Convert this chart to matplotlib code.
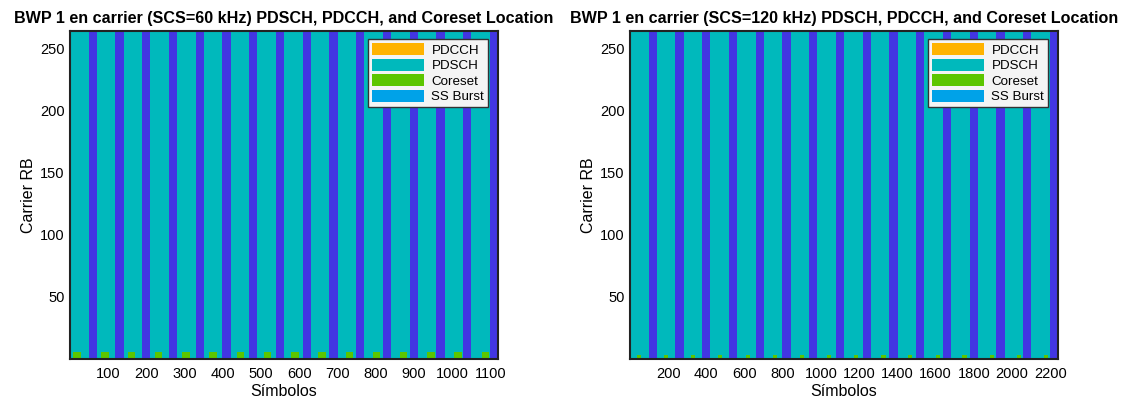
import matplotlib.pyplot as plt
from matplotlib.patches import Patch

plt.rcParams['font.family'] = ['Liberation Sans', 'DejaVu Sans']

# carrier setup for the two numerologies
scs_khz = [60, 120]
n_symbols = [1120, 2240]
n_rb = 264
x_ticks = [list(range(100, 1101, 100)), list(range(200, 2201, 200))]
y_ticks = [50, 100, 150, 200, 250]

# PDSCH allocation: repeats every period, occupies the first pdsch_len symbols
pdsch_period = [70, 140]
pdsch_len = [49, 98]

# coreset blocks (start symbol, length in symbols, size in RB)
coreset_start = [
    [9, 81, 151, 222, 294, 364, 436, 507, 578, 649, 721, 792, 863, 935, 1005, 1077],
    [35, 178, 319, 462, 605, 746, 889, 1032, 1172, 1316, 1456, 1599, 1740, 1883, 2026, 2165],
]
coreset_len = [20, 22]
coreset_rb = [5.5, 3.2]

c_bg = '#4236E2'
c_pdsch = '#00B9BC'
c_pdcch = '#FFB300'
c_coreset = '#5CC600'
c_ss = '#00A2E8'

fig = plt.figure(figsize=(11.29, 4.01), dpi=100)
lefts = [70 / 1129, 630 / 1129]

for i in range(2):
    ax = fig.add_axes([lefts[i], 42 / 401, 428 / 1129, 328 / 401])
    ax.set_facecolor(c_bg)

    starts = list(range(0, n_symbols[i], pdsch_period[i]))
    ax.bar(starts, n_rb, width=pdsch_len[i], align='edge', color=c_pdsch, linewidth=0)
    ax.bar(coreset_start[i], coreset_rb[i], width=coreset_len[i], align='edge',
           color=c_coreset, linewidth=0)

    ax.set_xlim(0, n_symbols[i])
    ax.set_ylim(0, n_rb + 0.5)
    ax.set_xticks(x_ticks[i])
    ax.set_yticks(y_ticks)
    ax.tick_params(direction='in', length=0, labelsize=10.5)
    ax.tick_params(axis='y', pad=4)
    ax.tick_params(axis='x', pad=6)
    for s in ax.spines.values():
        s.set_linewidth(1.5)
        s.set_color('#222222')

    ax.set_xlabel('Símbolos', fontsize=11.5, labelpad=2)
    ax.set_ylabel('Carrier RB', fontsize=11.5, labelpad=3)
    ax.set_title(f'BWP 1 en carrier (SCS={scs_khz[i]} kHz) PDSCH, PDCCH, and Coreset Location',
                 fontsize=11.6, fontweight='bold', pad=6)

    handles = [Patch(facecolor=c_pdcch, edgecolor='none', label='PDCCH'),
               Patch(facecolor=c_pdsch, edgecolor='none', label='PDSCH'),
               Patch(facecolor=c_coreset, edgecolor='none', label='Coreset'),
               Patch(facecolor=c_ss, edgecolor='none', label='SS Burst')]
    leg = ax.legend(handles=handles, loc='upper right', bbox_to_anchor=(0.977, 0.975),
                    borderaxespad=0, fontsize=9.6, handlelength=3.9, handleheight=1.0,
                    labelspacing=0.15, handletextpad=0.55, borderpad=0.3,
                    fancybox=False, framealpha=1)
    leg.get_frame().set_facecolor('#F4F4F4')
    leg.get_frame().set_edgecolor('#333333')
    leg.get_frame().set_linewidth(1.0)

fig.savefig('out.png', dpi=100)
